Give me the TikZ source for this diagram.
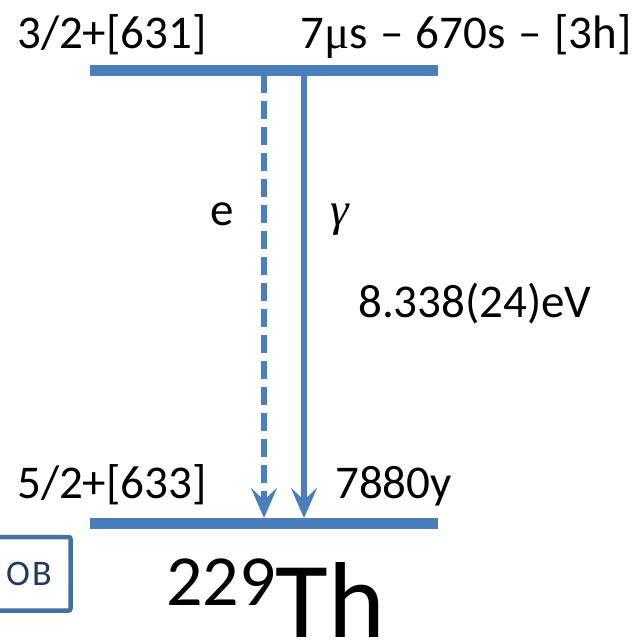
\documentclass[tikz,border=0pt]{standalone}
\usepackage{fontspec}
\setmainfont{Carlito}
\newfontfamily\grk{Liberation Serif}
\usetikzlibrary{arrows.meta}
\definecolor{barblue}{RGB}{74,126,187}
\definecolor{boxblue}{RGB}{65,113,156}
\definecolor{navy}{RGB}{31,56,100}
\tikzset{
  x=1pt,y=-1pt,
  level/.style={draw=barblue,line width=11pt},
  trans/.style={draw=barblue,line width=6pt,-{Stealth[length=30pt,width=26pt,inset=12pt]}},
  lbl/.style={anchor=base west,inner sep=0pt,font=\fontsize{47}{50}\selectfont},
}
\newcommand{\gap}{\hspace{12.5pt}}
\begin{document}
\begin{tikzpicture}
\useasboundingbox (0,0) rectangle (636,643);
\clip (0,0) rectangle (636,643);
% levels
\coordinate (tl) at (90,70);
\coordinate (tr) at (438,70);
\coordinate (bl) at (90,523);
\coordinate (br) at (438,523);
\draw[level] (tl) -- (tr);
\draw[level] (bl) -- (br);
% transitions
\coordinate (eTop) at (264,75);
\coordinate (eBot) at (264,518);
\coordinate (gTop) at (304,75);
\coordinate (gBot) at (304,518);
\draw[trans,dash pattern=on 18pt off 8pt] (eTop) -- (eBot);
\draw[trans] (gTop) -- (gBot);
% labels
\node[lbl] (uJ) at (17,48) {3/2+[631]};
\node[lbl] (uT) at (300,48) {7{\grk μ}s\gap–\gap670s\gap–\gap[3h]};
\node[lbl] (e) at (210,225) {e};
\node[lbl] (g) at (330,225) {\grk\itshape γ};
\node[lbl] (E) at (358,317) {8.338(24)eV};
\node[lbl] (lJ) at (17,498) {5/2+[633]};
\node[lbl] (lT) at (335,498) {7880y};
\node[anchor=base west,inner sep=0pt] (th) at (166,637)
  {\fontsize{108}{114}\selectfont\raisebox{32pt}{\fontsize{72}{76}\selectfont 229}Th};
% OB box
\draw[boxblue,line width=4.5pt,rounded corners=2pt] (-20,537) rectangle (70.5,610.5);
\node[text=navy,inner sep=0pt,font=\fontsize{36}{38}\selectfont\addfontfeatures{LetterSpace=6}] (ob) at (29,574) {OB};
\end{tikzpicture}
\end{document}
